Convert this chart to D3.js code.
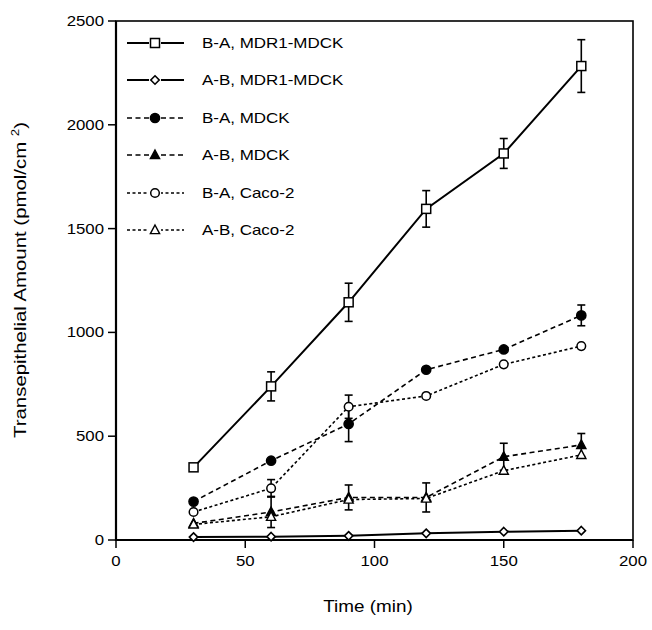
<!DOCTYPE html>
<html>
<head>
<meta charset="utf-8">
<script src="https://cdn.jsdelivr.net/npm/d3@7"></script>
<style>
  body { margin: 0; background: #fff; }
  svg { display: block; font-family: "Liberation Sans", Arial, sans-serif; }
</style>
</head>
<body>
<div id="chart"></div>
<script>
// time points (min)
const times = [30, 60, 90, 120, 150, 180];

// amounts (pmol/cm2) and error bars (0 = none visible)
const baMdr1 = [350, 740, 1145, 1595, 1862, 2283];
const baMdr1Err = [0, 70, 92, 88, 72, 127];
const abMdr1 = [14, 16, 20, 32, 40, 45];
const abMdr1Err = [0, 0, 0, 0, 0, 0];
const baMdck = [185, 382, 559, 820, 918, 1082];
const baMdckErr = [0, 0, 85, 0, 0, 50];
const abMdck = [80, 135, 205, 205, 401, 458];
const abMdckErr = [0, 75, 60, 70, 65, 55];
const baCaco = [135, 249, 642, 694, 846, 934];
const baCacoErr = [0, 42, 56, 0, 0, 0];
const abCaco = [75, 112, 195, 200, 334, 410];
const abCacoErr = [0, 0, 0, 0, 0, 0];

const xTicks = [0, 50, 100, 150, 200];
const yTicks = [0, 500, 1000, 1500, 2000, 2500];

const series = [
  {name: "B-A, MDR1-MDCK", v: baMdr1, e: baMdr1Err, sym: "square", fill: "#fff", dash: null},
  {name: "A-B, MDR1-MDCK", v: abMdr1, e: abMdr1Err, sym: "diamond", fill: "#fff", dash: null},
  {name: "B-A, MDCK", v: baMdck, e: baMdckErr, sym: "circle", fill: "#000", dash: "5,3.5"},
  {name: "A-B, MDCK", v: abMdck, e: abMdckErr, sym: "triangle", fill: "#000", dash: "5,3.5"},
  {name: "B-A, Caco-2", v: baCaco, e: baCacoErr, sym: "circle", fill: "#fff", dash: "3,2.5"},
  {name: "A-B, Caco-2", v: abCaco, e: abCacoErr, sym: "triangle", fill: "#fff", dash: "3,2.5"}
];

const W = 652, H = 630;
const pLeft = 116, pRight = 633, pTop = 21, pBottom = 540;

const x = d3.scaleLinear().domain([0, 200]).range([pLeft, pRight]);
const y = d3.scaleLinear().domain([0, 2500]).range([pBottom, pTop]);

const svg = d3.select("#chart").append("svg")
  .attr("width", W).attr("height", H);

// marker drawing
function marker(g, sym, fill) {
  if (sym === "square") {
    g.append("rect").attr("x", -4.5).attr("y", -4.5).attr("width", 9).attr("height", 9)
      .attr("fill", fill).attr("stroke", "#000").attr("stroke-width", 1.5);
  } else if (sym === "diamond") {
    g.append("path").attr("d", "M0,-4.2L4.2,0L0,4.2L-4.2,0Z")
      .attr("fill", fill).attr("stroke", "#000").attr("stroke-width", 1.6);
  } else if (sym === "circle") {
    g.append("circle").attr("r", fill === "#000" ? 4.6 : 4.3)
      .attr("fill", fill).attr("stroke", "#000").attr("stroke-width", 1.5);
  } else {
    g.append("path").attr("d", "M0,-5L4.6,3.6L-4.6,3.6Z")
      .attr("fill", fill).attr("stroke", "#000").attr("stroke-width", 1.4);
  }
}

// frame
svg.append("rect").attr("x", pLeft).attr("y", pTop)
  .attr("width", pRight - pLeft).attr("height", pBottom - pTop)
  .attr("fill", "none").attr("stroke", "#000").attr("stroke-width", 1.6);
svg.append("line").attr("x1", pLeft).attr("x2", pLeft).attr("y1", pTop).attr("y2", pBottom + 1)
  .attr("stroke", "#000").attr("stroke-width", 2.2);
svg.append("line").attr("x1", pLeft - 1).attr("x2", pRight).attr("y1", pBottom).attr("y2", pBottom)
  .attr("stroke", "#000").attr("stroke-width", 2.2);

// y ticks
const yt = svg.selectAll(".yt").data(yTicks).join("g")
  .attr("transform", d => `translate(${pLeft},${y(d)})`);
yt.append("line").attr("x1", -8).attr("x2", 0).attr("stroke", "#000").attr("stroke-width", 1.5);
yt.append("text").attr("transform", "translate(-12,5) scale(1.2,1)")
  .attr("text-anchor", "end").attr("font-size", 14).text(d => d);

// x ticks
const xt = svg.selectAll(".xt").data(xTicks).join("g")
  .attr("transform", d => `translate(${x(d)},${pBottom})`);
xt.append("line").attr("y1", 0).attr("y2", 8).attr("stroke", "#000").attr("stroke-width", 1.5);
xt.append("text").attr("transform", "translate(0,26) scale(1.2,1)")
  .attr("text-anchor", "middle").attr("font-size", 14).text(d => d);

// axis titles
svg.append("text").attr("transform", "translate(368,612) scale(1.18,1)")
  .attr("text-anchor", "middle").attr("font-size", 16).text("Time (min)");

const yl = svg.append("text").attr("transform", "translate(26,280) rotate(-90) scale(1.2,1)")
  .attr("text-anchor", "middle").attr("font-size", 17);
yl.append("tspan").text("Transepithelial Amount (pmol/cm ");
yl.append("tspan").attr("font-size", 11).attr("dy", -7).text("2");
yl.append("tspan").attr("dy", 7).text(")");

// lines
const line = d3.line().x((d, i) => x(times[i])).y(d => y(d));
series.forEach(s => {
  svg.append("path").datum(s.v).attr("d", line)
    .attr("fill", "none").attr("stroke", "#000")
    .attr("stroke-width", s.dash ? 1.6 : 2)
    .attr("stroke-dasharray", s.dash);
});

// error bars
series.forEach(s => {
  s.v.forEach((v, i) => {
    if (!s.e[i]) return;
    const cx = x(times[i]), y1 = y(v + s.e[i]), y2 = y(v - s.e[i]);
    const g = svg.append("g").attr("stroke", "#000").attr("stroke-width", 1.6);
    g.append("line").attr("x1", cx).attr("x2", cx).attr("y1", y1).attr("y2", y2);
    g.append("line").attr("x1", cx - 4).attr("x2", cx + 4).attr("y1", y1).attr("y2", y1);
    g.append("line").attr("x1", cx - 4).attr("x2", cx + 4).attr("y1", y2).attr("y2", y2);
  });
});

// markers
series.forEach(s => {
  s.v.forEach((v, i) => {
    const g = svg.append("g").attr("transform", `translate(${x(times[i])},${y(v)})`);
    marker(g, s.sym, s.fill);
  });
});

// legend
const legY = [43, 80, 118, 155, 193, 230];
series.forEach((s, i) => {
  const g = svg.append("g").attr("transform", `translate(0,${legY[i]})`);
  g.append("line").attr("x1", 127).attr("x2", 184)
    .attr("stroke", "#000").attr("stroke-width", s.dash ? 1.6 : 2)
    .attr("stroke-dasharray", s.dash);
  const m = g.append("g").attr("transform", "translate(155,0)");
  m.append("rect").attr("x", -6).attr("y", -6).attr("width", 12).attr("height", 12).attr("fill", "#fff");
  marker(m, s.sym, s.fill);
  g.append("text").attr("transform", "translate(202,5) scale(1.17,1)")
    .attr("font-size", 14.5).text(s.name);
});
</script>
</body>
</html>
